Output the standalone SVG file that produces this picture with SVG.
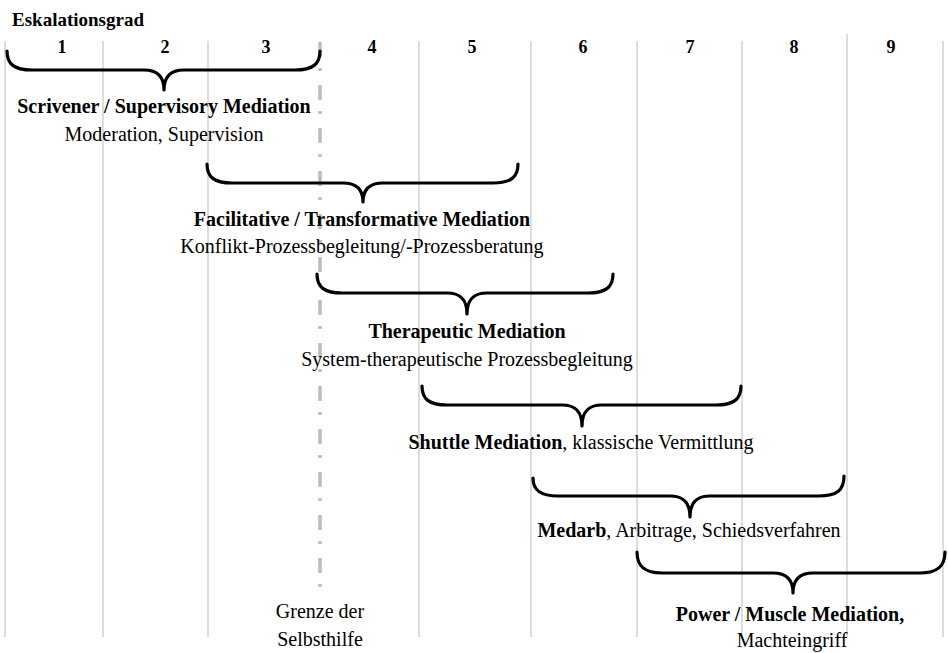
<svg xmlns="http://www.w3.org/2000/svg" width="948" height="653" viewBox="0 0 948 653">
<style>
  .t { font-family: 'Liberation Serif', 'Tinos', 'DejaVu Serif', serif; fill: #000; }
  .title { font-size: 19px; font-weight: bold; }
  .num { font-size: 18px; font-weight: bold; text-anchor: middle; }
  .h { font-size: 20px; font-weight: bold; text-anchor: middle; }
  .s { font-size: 20px; text-anchor: middle; }
  .b { font-weight: bold; }
  .grid line { stroke: #c6c6c6; stroke-width: 1.2; }
  .brace { fill: none; stroke: #000; stroke-width: 3.2; stroke-linecap: round; stroke-linejoin: round; }
  .limit { stroke: #bcbcbc; stroke-width: 3.5; stroke-dasharray: 15 11 3 14; }
</style>
<rect width="948" height="653" fill="#fff"/>
<g id="grid" class="grid">
  <line x1="5" y1="41" x2="5" y2="637"/>
  <line x1="103" y1="41" x2="103" y2="637"/>
  <line x1="208" y1="41" x2="208" y2="637"/>
  <line x1="419" y1="41" x2="419" y2="637"/>
  <line x1="531" y1="41" x2="531" y2="637"/>
  <line x1="637" y1="41" x2="637" y2="637"/>
  <line x1="742" y1="41" x2="742" y2="637"/>
  <line x1="847" y1="34" x2="847" y2="637"/>
  <line x1="943" y1="41" x2="943" y2="637"/>
</g>
<g id="limit" class="t" font-family="Liberation Serif, serif">
  <line class="limit" x1="320" y1="42" x2="320" y2="593"/>
  <text class="s" x="320" y="618">Grenze der</text>
  <text class="s" x="320" y="646">Selbsthilfe</text>
</g>
<g id="header" class="t" font-family="Liberation Serif, serif">
  <text class="title" x="12" y="26">Eskalationsgrad</text>
  <text class="num" x="62" y="53">1</text>
  <text class="num" x="165" y="53">2</text>
  <text class="num" x="266" y="53">3</text>
  <text class="num" x="372" y="53">4</text>
  <text class="num" x="472" y="53">5</text>
  <text class="num" x="583" y="53">6</text>
  <text class="num" x="690" y="53">7</text>
  <text class="num" x="794" y="53">8</text>
  <text class="num" x="891" y="53">9</text>
</g>
<g id="connectors">
  <path class="brace" d="M7,51 C7,64 14,70 32,70 L144,70 C157,70 164,76 164,90 C164,76 171,70 184,70 L295,70 C313,70 320,64 320,51"/>
  <path class="brace" d="M207,164 C207,177 214,183 232,183 L343,183 C356,183 363,189 363,202 C363,189 370,183 383,183 L493,183 C511,183 518,177 518,164"/>
  <path class="brace" d="M317,274 C317,287 324,293 342,293 L447,293 C460,293 467,299 467,314 C467,299 474,293 487,293 L588,293 C606,293 613,287 613,274"/>
  <path class="brace" d="M422,386 C422,399 429,405 447,405 L562,405 C575,405 582,411 582,426 C582,411 589,405 602,405 L716,405 C734,405 741,399 741,386"/>
  <path class="brace" d="M533,478 C533,490 540,496 558,496 L670,496 C683,496 690,502 690,517 C690,502 697,496 710,496 L819,496 C837,496 844,490 844,476"/>
  <path class="brace" d="M637,552 C637,566 644,573 662,573 L773,573 C786,573 793,579 793,593 C793,579 800,573 813,573 L920,573 C938,573 945,566 945,552"/>
</g>
<g id="scrivener" class="t" font-family="Liberation Serif, serif">
  <text class="h" x="164" y="113">Scrivener / Supervisory Mediation</text>
  <text class="s" x="164" y="141">Moderation, Supervision</text>
</g>
<g id="facilitative" class="t" font-family="Liberation Serif, serif">
  <text class="h" x="362" y="226">Facilitative / Transformative Mediation</text>
  <text class="s" x="362" y="253">Konflikt-Prozessbegleitung/-Prozessberatung</text>
</g>
<g id="therapeutic" class="t" font-family="Liberation Serif, serif">
  <text class="h" x="467" y="338">Therapeutic Mediation</text>
  <text class="s" x="467" y="366">System-therapeutische Prozessbegleitung</text>
</g>
<g id="shuttle" class="t" font-family="Liberation Serif, serif">
  <text class="s" x="581" y="449"><tspan class="b">Shuttle Mediation</tspan>, klassische Vermittlung</text>
</g>
<g id="medarb" class="t" font-family="Liberation Serif, serif">
  <text class="s" x="689" y="537"><tspan class="b">Medarb</tspan>, Arbitrage, Schiedsverfahren</text>
</g>
<g id="power" class="t" font-family="Liberation Serif, serif">
  <text class="h" x="790" y="621">Power / Muscle Mediation,</text>
  <text class="s" x="792" y="647">Machteingriff</text>
</g>
</svg>
